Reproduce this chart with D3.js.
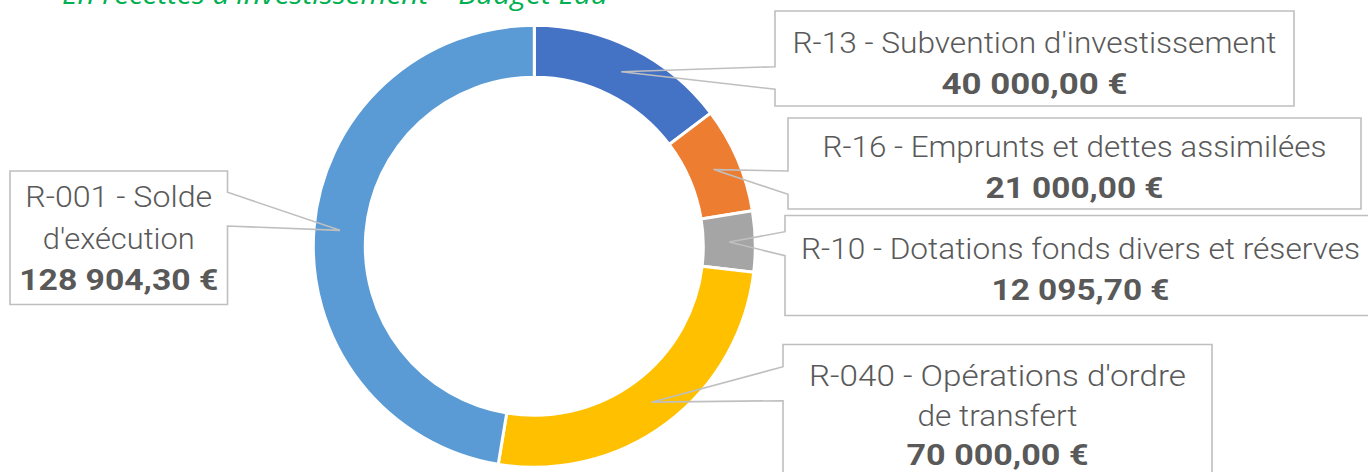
<!DOCTYPE html>
<html>
<head>
<meta charset="utf-8">
<script src="https://cdn.jsdelivr.net/npm/d3@7/dist/d3.min.js"></script>
<style>
  html, body { margin: 0; padding: 0; background: #ffffff; }
  svg { display: block; }
</style>
</head>
<body>
<svg id="chart" width="1368" height="472"></svg>
<script>
// ---- data ----
const title = "En recettes d'investissement – Budget Eau";
const categories = [
  "R-13 - Subvention d'investissement",
  "R-16 - Emprunts et dettes assimilées",
  "R-10 - Dotations fonds divers et réserves",
  "R-040 - Opérations d'ordre de transfert",
  "R-001 - Solde d'exécution"
];
const values = [40000.00, 21000.00, 12095.70, 70000.00, 128904.30];
const colors = ["#4472C4", "#ED7D31", "#A5A5A5", "#FFC000", "#5B9BD5"];
// how each category name is wrapped in its callout
const labelLines = [
  ["R-13 - Subvention d'investissement"],
  ["R-16 - Emprunts et dettes assimilées"],
  ["R-10 - Dotations fonds divers et réserves"],
  ["R-040 - Opérations d'ordre", "de transfert"],
  ["R-001 - Solde", "d'exécution"]
];

// ---- layout (callout boxes) ----
const callouts = [
  {x0: 775, y0: 11,  x1: 1294, y1: 106, side: "left",  wy0: 66.7,  wy1: 89.3, base: 53,  lh: 41, w: [484], vw: 186},
  {x0: 788, y0: 118, x1: 1361, y1: 209, side: "left",  wy0: 171,   wy1: 194.3, base: 157, lh: 41, w: [504], vw: 178},
  {x0: 785, y0: 215.5, x1: 1376, y1: 315.5, side: "left", wy0: 231.7, wy1: 255.7, base: 259, lh: 41, w: [559], vw: 178},
  {x0: 783, y0: 344.5, x1: 1212, y1: 490, side: "left", wy0: 366.7, wy1: 400.7, base: 386, lh: 39.5, w: [377, 160], vw: 182},
  {x0: 10,  y0: 171, x1: 227.5, y1: 304.5, side: "right", wy0: 192.3, wy1: 226, base: 207, lh: 41.5, w: [187, 152], vw: 199}
];

const cx = 534.3, cy = 246.3, rOuter = 221, rInner = 169;

const svg = d3.select("#chart");

const locale = d3.formatLocale({
  decimal: ",", thousands: "\u00a0", grouping: [3], currency: ["", "\u00a0€"]
});
const fmt = locale.format("$,.2f");

// title (partially cut off at top, as in the reference)
svg.append("text")
  .attr("x", 62).attr("y", 4)
  .attr("font-family", "'Open Sans', 'DejaVu Sans', sans-serif")
  .attr("font-style", "italic")
  .attr("font-size", 28)
  .attr("fill", "#00B050")
  .attr("textLength", 546)
  .attr("lengthAdjust", "spacingAndGlyphs")
  .text(title);

// donut
const pie = d3.pie().sort(null).value(d => d).startAngle(0).endAngle(2 * Math.PI);
const arcs = pie(values);
const arc = d3.arc().innerRadius(rInner).outerRadius(rOuter);

const g = svg.append("g").attr("transform", `translate(${cx},${cy})`);
g.selectAll("path.slice")
  .data(arcs)
  .join("path")
  .attr("class", "slice")
  .attr("d", arc)
  .attr("fill", (d, i) => colors[i])
  .attr("stroke", "#ffffff")
  .attr("stroke-width", 3)
  .attr("stroke-linejoin", "miter");

// callouts
arcs.forEach((a, i) => {
  const c = callouts[i];
  const [tx, ty] = arc.centroid(a);
  const tipX = cx + tx, tipY = cy + ty;
  let p;
  if (c.side === "left") {
    p = `M${c.x0},${c.y0}H${c.x1}V${c.y1}H${c.x0}V${c.wy1}L${tipX},${tipY}L${c.x0},${c.wy0}Z`;
  } else {
    p = `M${c.x0},${c.y0}H${c.x1}V${c.wy0}L${tipX},${tipY}L${c.x1},${c.wy1}V${c.y1}H${c.x0}Z`;
  }
  svg.append("path")
    .attr("d", p)
    .attr("fill", "none")
    .attr("stroke", "#BFBFBF")
    .attr("stroke-width", 1.6)
    .attr("stroke-linejoin", "miter");

  const mx = (c.x0 + c.x1) / 2;
  labelLines[i].forEach((ln, k) => {
    svg.append("text")
      .attr("x", mx).attr("y", c.base + k * c.lh)
      .attr("text-anchor", "middle")
      .attr("font-family", "Roboto, 'DejaVu Sans Condensed', sans-serif")
      .attr("font-weight", 300)
      .attr("font-size", 30)
      .attr("fill", "#595959")
      .attr("textLength", c.w[k])
      .attr("lengthAdjust", "spacingAndGlyphs")
      .text(ln);
  });
  svg.append("text")
    .attr("x", mx).attr("y", c.base + labelLines[i].length * c.lh)
    .attr("text-anchor", "middle")
    .attr("font-family", "Roboto, 'DejaVu Sans Condensed', sans-serif")
    .attr("font-weight", 700)
    .attr("font-size", 29)
    .attr("fill", "#595959")
    .attr("textLength", c.vw)
    .attr("lengthAdjust", "spacingAndGlyphs")
    .text(fmt(values[i]));
});
</script>
</body>
</html>
